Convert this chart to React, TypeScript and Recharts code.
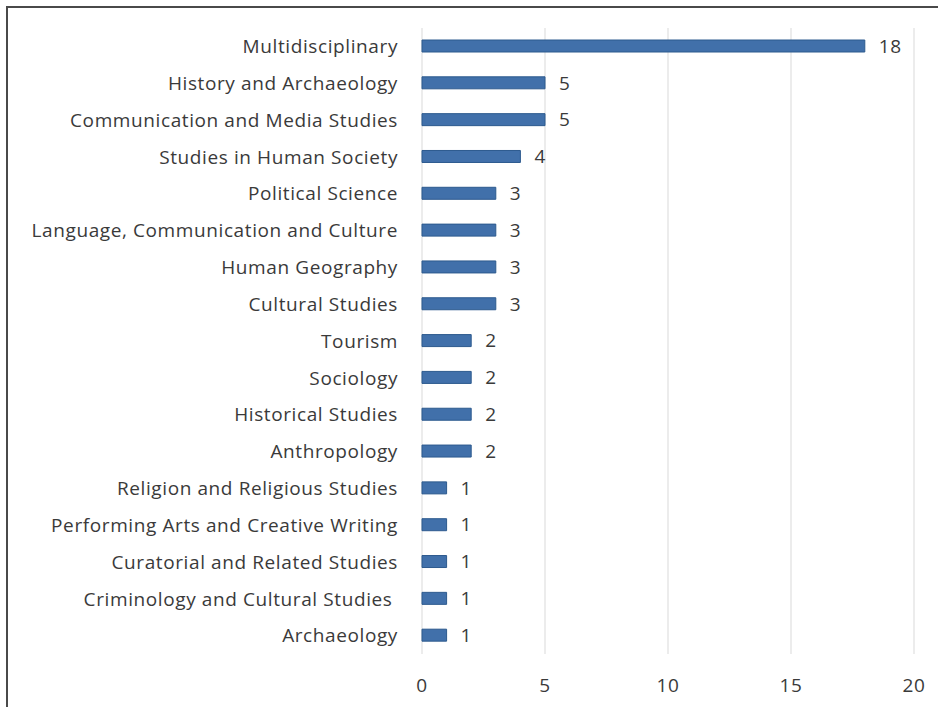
import { BarChart, Bar, XAxis, YAxis, CartesianGrid, LabelList } from "recharts";

// Categories, top to bottom
const categories = [
  "Multidisciplinary",
  "History and Archaeology",
  "Communication and Media Studies",
  "Studies in Human Society",
  "Political Science",
  "Language, Communication and Culture",
  "Human Geography",
  "Cultural Studies",
  "Tourism",
  "Sociology",
  "Historical Studies",
  "Anthropology",
  "Religion and Religious Studies",
  "Performing Arts and Creative Writing",
  "Curatorial and Related Studies",
  "Criminology and Cultural Studies\u00A0",
  "Archaeology",
];

const counts = [18, 5, 5, 4, 3, 3, 3, 3, 2, 2, 2, 2, 1, 1, 1, 1, 1];

const xTicks = [0, 5, 10, 15, 20];

const data = categories.map((name, i) => ({ name, value: counts[i] }));

const FONT = "'Open Sans', 'Noto Sans', sans-serif";
const TEXT = "#3a3a3a";
const textStyle = { fill: TEXT, fontSize: 19, fontFamily: FONT, letterSpacing: 0.6 };

const App = () => {
  return (
    <div style={{ position: "absolute", left: 0, top: 0, width: 938, height: 707, background: "#fff" }}>
      {/* frame, only top and left edges show in the original crop */}
      <div
        style={{
          position: "absolute",
          left: 6,
          top: 6,
          width: 930,
          height: 701,
          borderLeft: "2px solid #4a4a4a",
          borderTop: "2px solid #4a4a4a",
        }}
      />
      <div style={{ position: "absolute", left: 0, top: 0 }}>
        <BarChart
          width={938}
          height={707}
          data={data}
          layout="vertical"
          margin={{ top: 28, right: 24, bottom: 0, left: 0 }}
        >
          <CartesianGrid horizontal={false} stroke="#d9d9d9" />
          <XAxis
            type="number"
            domain={[0, 20]}
            ticks={xTicks}
            axisLine={false}
            tickLine={false}
            tickMargin={19}
            height={53}
            tick={textStyle}
          />
          <YAxis
            type="category"
            dataKey="name"
            width={422}
            axisLine={false}
            tickLine={false}
            tickMargin={18}
            interval={0}
            tick={textStyle}
          />
          <Bar dataKey="value" fill="#4170aa" stroke="#2d5a8e" strokeWidth={1} barSize={12} isAnimationActive={false}>
            <LabelList dataKey="value" position="right" offset={14} {...textStyle} />
          </Bar>
        </BarChart>
      </div>
    </div>
  );
};

export default App;
